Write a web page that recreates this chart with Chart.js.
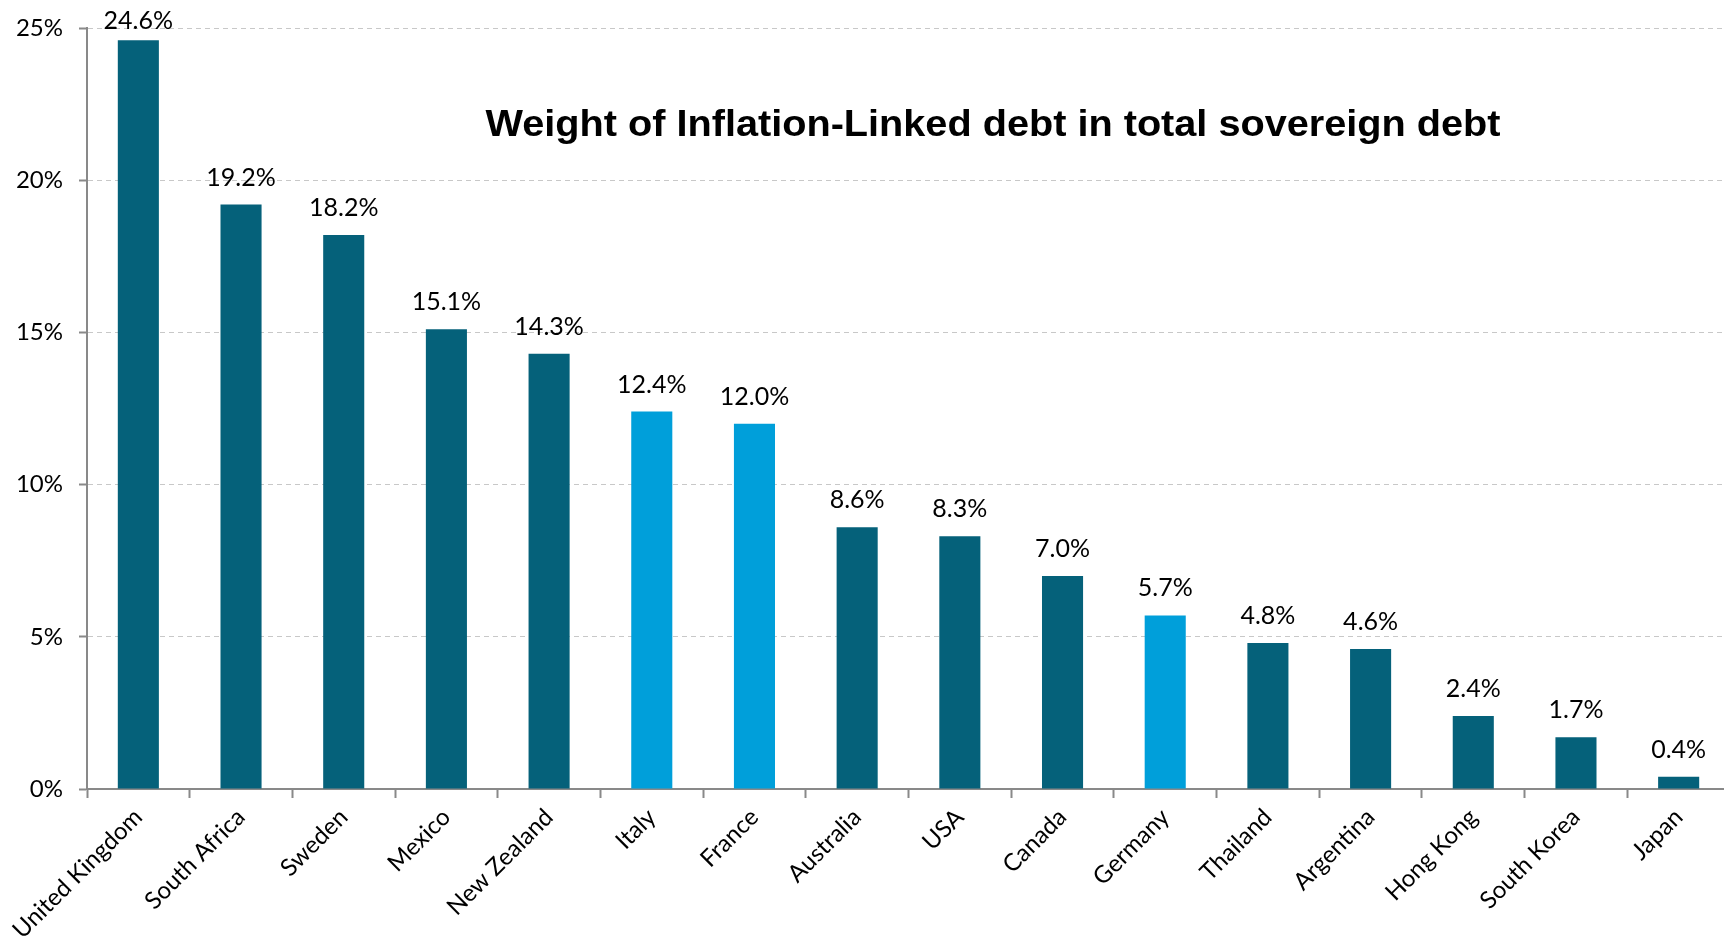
<!DOCTYPE html>
<html>
<head>
<meta charset="utf-8">
<script src="https://cdn.jsdelivr.net/npm/chart.js@4"></script>
<style>
html,body{margin:0;padding:0;background:#fff;overflow:hidden;}
#wrap{width:1730px;height:948px;position:relative;}
</style>
</head>
<body>
<div id="wrap"><canvas id="c" width="1730" height="948"></canvas></div>
<script>
const categories = ["United Kingdom","South Africa","Sweden","Mexico","New Zealand","Italy","France","Australia","USA","Canada","Germany","Thailand","Argentina","Hong Kong","South Korea","Japan"];
const values = [24.6,19.2,18.2,15.1,14.3,12.4,12.0,8.6,8.3,7.0,5.7,4.8,4.6,2.4,1.7,0.4];
const highlighted = ["Italy","France","Germany"];
const yTicks = [0,5,10,15,20,25];
const titleText = "Weight of Inflation-Linked debt in total sovereign debt";

const DARK = '#05617a';
const LIGHT = '#009fda';
const AXIS = '#898989';
const FONT = 'Lato, "Open Sans", sans-serif';

const labelPlugin = {
  id: 'valueLabels',
  afterDatasetsDraw(chart) {
    const ctx = chart.ctx;
    const meta = chart.getDatasetMeta(0);
    ctx.save();
    ctx.fillStyle = '#000';
    ctx.font = '25px ' + FONT;
    ctx.textAlign = 'center';
    ctx.textBaseline = 'alphabetic';
    meta.data.forEach((bar, i) => {
      let y = bar.y - 19;
      if (y < 29) y = 29;
      ctx.fillText(values[i].toFixed(1) + '%', bar.x, y);
    });
    ctx.restore();
  }
};

const titlePlugin = {
  id: 'innerTitle',
  afterDraw(chart) {
    const ctx = chart.ctx;
    ctx.save();
    ctx.fillStyle = '#000';
    ctx.font = 'bold 37px "Liberation Sans", Arial, sans-serif';
    ctx.textAlign = 'center';
    ctx.textBaseline = 'middle';
    const w = ctx.measureText(titleText).width;
    const target = 1015;
    const sx = target / w;
    ctx.translate(993, 126);
    ctx.scale(sx, 1);
    ctx.fillText(titleText, 0, 0);
    ctx.restore();
  }
};

new Chart(document.getElementById('c'), {
  type: 'bar',
  data: {
    labels: categories,
    datasets: [{
      data: values,
      backgroundColor: categories.map(c => highlighted.includes(c) ? LIGHT : DARK),
      borderWidth: 0,
      barPercentage: 0.4,
      categoryPercentage: 1.0
    }]
  },
  plugins: [labelPlugin, titlePlugin],
  options: {
    responsive: false,
    animation: false,
    devicePixelRatio: 1,
    layout: { padding: { top: 28, left: 0, right: 0, bottom: 0 } },
    plugins: { legend: { display: false }, tooltip: { enabled: false }, title: { display: false } },
    scales: {
      x: {
        afterFit(scale) { scale.height = 159; scale.paddingLeft = 0; scale.paddingRight = 0; },
        grid: { display: true, drawOnChartArea: false, offset: true, tickLength: 9, tickColor: AXIS, tickWidth: 2 },
        border: { display: true, color: AXIS, width: 2 },
        ticks: { color: '#000', font: { family: FONT, size: 24 }, minRotation: 45, maxRotation: 45, padding: 5, autoSkip: false }
      },
      y: {
        min: 0, max: 25,
        afterFit(scale) { scale.width = 87; scale.paddingTop = 0; scale.paddingBottom = 0; },
        afterBuildTicks(scale) { scale.ticks = yTicks.map(v => ({ value: v })); },
        grid: { color: '#c8c8c8', lineWidth: 1, tickLength: 8, tickColor: AXIS, tickWidth: 2, tickBorderDash: [] },
        border: { display: true, color: AXIS, width: 2, dash: [5, 4] },
        ticks: { color: '#000', font: { family: FONT, size: 24 }, padding: 16, callback: v => v + '%' }
      }
    }
  }
});
</script>
</body>
</html>
